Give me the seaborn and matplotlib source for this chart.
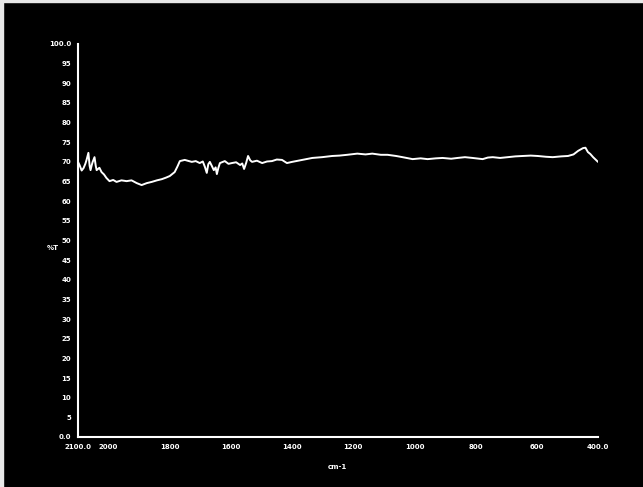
import matplotlib
matplotlib.use("Agg")
import matplotlib.pyplot as plt
import seaborn as sns
import pandas as pd
from matplotlib.patches import Rectangle

# Spectrum (wavenumber in cm-1, transmittance in %)
wavenumber = [2100, 2095, 2088, 2082, 2076, 2072, 2066, 2062, 2059, 2055, 2052, 2046,
              2042, 2039, 2030, 2023, 2015, 2007, 1997, 1985, 1974, 1958, 1941, 1925,
              1908, 1892, 1875, 1859, 1842, 1826, 1812, 1800, 1784, 1775, 1767, 1751,
              1728, 1715, 1702, 1692, 1685, 1679, 1674, 1669, 1662, 1656, 1650, 1646,
              1641, 1636, 1620, 1608, 1597, 1583, 1570, 1563, 1557, 1550, 1544, 1537,
              1531, 1515, 1498, 1482, 1466, 1450, 1433, 1417, 1400, 1367, 1334, 1302,
              1269, 1245, 1220, 1187, 1160, 1138, 1110, 1088, 1060, 1039, 1006, 980,
              957, 930, 908, 880, 859, 835, 810, 777, 760, 744, 720, 695, 670, 646,
              620, 597, 570, 548, 520, 498, 480, 465, 449, 441, 433, 425, 416, 408, 400]
transmittance = [70.0, 69.2, 67.8, 68.4, 69.5, 70.5, 72.3, 69.0, 67.9, 69.2, 70.0, 71.2,
                 69.0, 67.9, 68.5, 67.4, 66.8, 65.9, 65.1, 65.4, 64.9, 65.3, 65.1, 65.3,
                 64.6, 64.1, 64.6, 64.9, 65.3, 65.6, 66.0, 66.4, 67.4, 68.8, 70.2, 70.5,
                 70.0, 70.2, 69.7, 70.1, 68.7, 67.2, 69.4, 70.0, 68.9, 67.9, 68.6, 66.9,
                 68.5, 69.7, 70.2, 69.5, 69.7, 69.9, 69.2, 69.6, 68.2, 69.8, 71.5, 70.4,
                 70.0, 70.3, 69.7, 70.1, 70.2, 70.6, 70.5, 69.7, 70.0, 70.5, 71.0, 71.2,
                 71.5, 71.6, 71.8, 72.1, 71.9, 72.1, 71.8, 71.8, 71.5, 71.2, 70.7, 70.9,
                 70.7, 70.9, 71.0, 70.8, 71.0, 71.2, 71.0, 70.7, 71.1, 71.2, 71.0, 71.2,
                 71.4, 71.5, 71.6, 71.5, 71.3, 71.2, 71.4, 71.5, 71.9, 72.8, 73.5, 73.6,
                 72.5, 72.0, 71.2, 70.6, 70.0]

x_ticks = [2100, 2000, 1800, 1600, 1400, 1200, 1000, 800, 600, 400]
x_labels = ["2100.0", "2000", "1800", "1600", "1400", "1200", "1000", "800", "600", "400.0"]
y_ticks = list(range(0, 101, 5))
y_labels = ["0.0"] + [str(v) for v in y_ticks[1:-1]] + ["100.0"]

df = pd.DataFrame({"cm-1": wavenumber, "%T": transmittance})

sns.set_theme(style="dark")
plt.rcParams["font.family"] = ["DejaVu Sans"]

fig = plt.figure(figsize=(6.43, 4.87), dpi=100, facecolor="black")
ax = fig.add_axes([0.1213, 0.1027, 0.8087, 0.807])
ax.set_facecolor("black")

# light edge left over from the scan, top and left side
fig.patches.append(Rectangle((0, 0.996), 1, 0.004, transform=fig.transFigure,
                             color="#e8e8e8", zorder=0))
fig.patches.append(Rectangle((0, 0), 0.005, 1, transform=fig.transFigure,
                             color="#e8e8e8", zorder=0))

sns.lineplot(data=df, x="cm-1", y="%T", color="white", linewidth=1.4, ax=ax,
             sort=False, estimator=None)

ax.set_xlim(2100, 400)
ax.set_ylim(0, 100)
ax.set_xticks(x_ticks)
ax.set_xticklabels(x_labels)
ax.set_yticks(y_ticks)
ax.set_yticklabels(y_labels)
ax.grid(False)

for side in ["top", "right"]:
    ax.spines[side].set_visible(False)
for side in ["left", "bottom"]:
    ax.spines[side].set_color("white")
    ax.spines[side].set_linewidth(1.5)

ax.tick_params(axis="both", colors="white", labelsize=5, length=3, width=1,
               direction="out", pad=2)
for lbl in ax.get_xticklabels() + ax.get_yticklabels():
    lbl.set_fontweight("bold")

ax.set_xlabel("cm-1", color="white", fontsize=5, fontweight="bold")
ax.set_ylabel("%T", color="white", fontsize=5, fontweight="bold", rotation=0,
              va="center", ha="center")
ax.xaxis.set_label_coords(0.498, -0.069)
ax.yaxis.set_label_coords(-0.048, 0.48)

fig.savefig("out.png", dpi=100, facecolor="black")
